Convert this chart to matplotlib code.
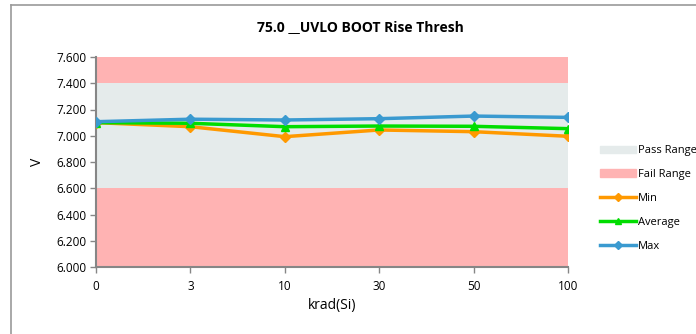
import matplotlib
matplotlib.use("Agg")
import matplotlib.pyplot as plt
from matplotlib.lines import Line2D
from matplotlib.patches import Patch

categories = ["0", "3", "10", "30", "50", "100"]
min_vals = [7.100, 7.069, 6.993, 7.044, 7.031, 6.996]
avg_vals = [7.100, 7.095, 7.069, 7.074, 7.072, 7.054]
max_vals = [7.107, 7.126, 7.120, 7.130, 7.150, 7.140]
pass_range = (6.6, 7.4)
fail_low = (6.0, 6.6)
fail_high = (7.4, 7.6)
yticks = [6.0, 6.2, 6.4, 6.6, 6.8, 7.0, 7.2, 7.4, 7.6]

plt.rcParams['font.family'] = ['Open Sans', 'DejaVu Sans']

fig = plt.figure(figsize=(6.96, 3.34), dpi=100)
ax = fig.add_axes([96/696, 1-267/334, (568-96)/696, (267-57)/334])

x = list(range(len(categories)))
pass_c = "#E5EBEB"
fail_c = "#FFB3B3"
ax.axhspan(*pass_range, color=pass_c, lw=0, zorder=0)
ax.axhspan(*fail_low, color=fail_c, lw=0, zorder=0)
ax.axhspan(*fail_high, color=fail_c, lw=0, zorder=0)

ax.plot(x, min_vals, color="#FF9900", lw=2.5, marker="D", ms=5, zorder=3)
ax.plot(x, avg_vals, color="#00DD00", lw=2.5, marker="^", ms=6, zorder=4)
ax.plot(x, max_vals, color="#3A9AD0", lw=2.5, marker="D", ms=5, zorder=5)

ax.set_xlim(0, len(categories)-1)
ax.set_ylim(6.0, 7.6)
ax.set_xticks(x)
ax.set_xticklabels(categories)
ax.set_yticks(yticks)
ax.set_yticklabels([f"{v:.3f}" for v in yticks])
ax.tick_params(axis='both', labelsize=8.5, color="#868686", length=4, width=1)
ax.tick_params(axis='x', pad=5)
ax.tick_params(axis='y', pad=3)
for s in ['top', 'right']:
    ax.spines[s].set_visible(False)
for s in ['left', 'bottom']:
    ax.spines[s].set_color("#868686")
    ax.spines[s].set_linewidth(1.5)

ax.set_xlabel("krad(Si)", fontsize=10, labelpad=4)
ax.set_ylabel("V", fontsize=10, labelpad=8)
fig.text(360/696, 1-27/334, "75.0 __UVLO BOOT Rise Thresh", ha="center", va="center",
         fontsize=10, fontweight="bold")

handles = [
    Patch(color=pass_c, label="Pass Range"),
    Patch(color=fail_c, label="Fail Range"),
    Line2D([], [], color="#FF9900", lw=2.5, marker="D", ms=4, label="Min"),
    Line2D([], [], color="#00DD00", lw=2.5, marker="^", ms=5, label="Average"),
    Line2D([], [], color="#3A9AD0", lw=2.5, marker="D", ms=4, label="Max"),
]
fig.legend(handles=handles, loc="upper left", bbox_to_anchor=(596/696, 1-141/334),
           frameon=False, fontsize=8, handlelength=3.2, labelspacing=1.15,
           handletextpad=0.2, borderaxespad=0)

fig.add_artist(Line2D([11/696, 1], [1-5/334, 1-5/334], color="#9A9A9A", lw=1.2,
                      transform=fig.transFigure))
fig.add_artist(Line2D([11/696, 11/696], [0, 1-5/334], color="#9A9A9A", lw=1.2,
                      transform=fig.transFigure))

fig.savefig("out.png", dpi=100)
